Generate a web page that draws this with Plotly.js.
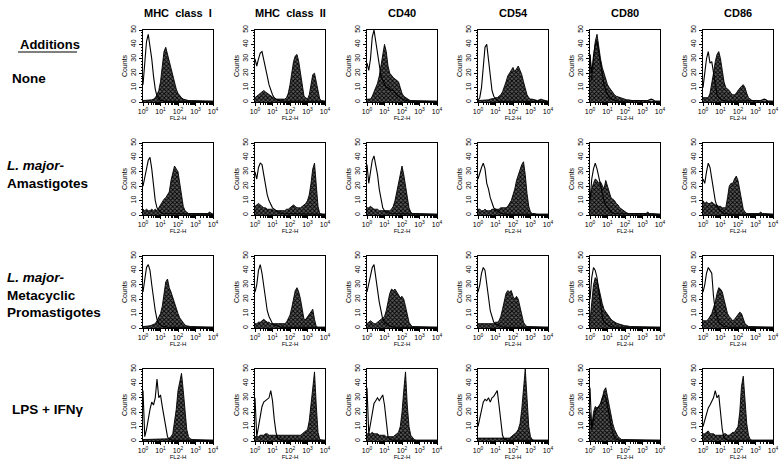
<!DOCTYPE html>
<html><head><meta charset="utf-8">
<script src="https://cdn.plot.ly/plotly-3.0.1.min.js"></script>
<style>html,body{margin:0;padding:0;background:#fff}#chart{width:783px;height:467px}</style>
</head><body><div id="chart"></div>
<script>
// log10 channel positions (decades) of the FL2-H histogram bins
const logChannels = [0,0.1,0.2,0.3,0.4,0.5,0.6,0.7,0.8,0.9,1.0,1.1,1.2,1.3,1.4,1.5,1.6,1.7,1.8,1.9,2.0,2.1,2.2,2.3,2.4,2.5,2.6,2.7,2.8,2.9,3.0,3.1,3.2,3.3,3.4,3.5,3.6,3.7,3.8,3.9,4.0];
const markers = ['MHC\u00a0\u00a0class\u00a0\u00a0I','MHC\u00a0\u00a0class\u00a0\u00a0II','CD40','CD54','CD80','CD86'];
const additions = ['None','<i>L.\u00a0major-</i><br>Amastigotes','<i>L.\u00a0major-</i><br>Metacyclic<br>Promastigotes','LPS\u00a0+\u00a0IFN\u03b3'];
const xTickVals = [1,10,100,1000,10000];
const xTickText = ['10<sup>0</sup>','10<sup>1</sup>','10<sup>2</sup>','10<sup>3</sup>','10<sup>4</sup>'];
const yTickVals = [0,10,20,30,40,50];

// Row 1: None  (open = control, fill = stained)
const none_mhc1_open = [12,30,42,47,40,30,18,9,4,2, 1,1,0.5,0.5,0.5,0.5,0.5,0.5,0.5,0.5, 0.5,0.5,0.5,0.5,0.5,0.5,0.5,0.5,0.5,0.5, 0.5,0.5,0.5,0.5,0.5,0.5,0.5,0.5,0.5,0.5, 0.5];
const none_mhc1_fill = [1,1,1,1,1,1.5,2,3,5,8, 14,24,35,38,33,27,22,17,13,9, 6,4,3,2,1.5,1,1,1,1,1, 1,1,1,1,1,1,1,1,1,1, 0.5];
const none_mhc2_open = [30,25,30,34,35,30,24,18,12,8, 5,3,2,1,1,0.5,0.5,0.5,0.5,0.5, 0.5,0.5,0.5,0.5,0.5,0.5,0.5,0.5,0.5,0.5, 0.5,0.5,0.5,0.5,0.5,0.5,0.5,0.5,0.5,0.5, 0.5];
const none_mhc2_fill = [3,4,5,6,7,8,7,6,5,4, 3,2.5,2,2,2,2,2,2,3,6, 12,20,28,32,33,28,20,10,4,3, 2,5,12,19,20,14,7,2,1,0.5, 0.5];
const none_cd40_open = [27,22,30,45,50,42,35,25,18,15, 12,10,10,9,8,8,6,5,4,3, 2,1.5,1,0.5,0.5,0.5,0.5,0.5,0.5,0.5, 0.5,0.5,0.5,0.5,0.5,0.5,0.5,0.5,0.5,0.5, 0.5];
const none_cd40_fill = [2,2,2,4,7,10,13,18,25,33, 40,35,25,20,18,17,16,15,14,10, 6,4,3,2,1.5,1,1,1,1,1, 1,1,1,1,1,1,0.5,0.5,0.5,0.5, 0.5];
const none_cd54_open = [1,3,10,25,38,40,30,18,8,4, 2,1,0.5,0.5,0.5,0.5,0.5,0.5,0.5,0.5, 0.5,0.5,0.5,0.5,0.5,0.5,0.5,0.5,0.5,0.5, 0.5,0.5,0.5,0.5,0.5,0.5,0.5,0.5,0.5,0.5, 0.5];
const none_cd54_fill = [1,1,1,1,1,1,1.5,2,2,2.5, 3,3,4,5,7,10,14,18,20,22, 24,21,23,25,22,19,14,9,5,3, 2,2,1.5,1.5,1,1.5,2,1.5,1,0.5, 0.5];
const none_cd80_open = [33,20,32,40,42,35,25,18,12,8, 5,3,2,1.5,1,1,0.5,0.5,0.5,0.5, 0.5,0.5,0.5,0.5,0.5,0.5,0.5,0.5,0.5,0.5, 0.5,0.5,0.5,1,1.5,2,1.5,0.5,0.5,0.5, 0.5];
const none_cd80_fill = [33,15,30,42,47,38,30,24,20,16, 12,10,8,6,5,4,3.5,3,2.5,2, 2,1.5,1.5,1,1,1,1,1,1,1, 1,1,1,1,1,1,1,1,1,0.5, 0.5];
const none_cd86_open = [10,22,30,35,27,28,20,10,5,3, 2,1,1,0.5,0.5,0.5,0.5,0.5,0.5,0.5, 0.5,0.5,0.5,0.5,0.5,0.5,0.5,0.5,0.5,0.5, 0.5,0.5,0.5,1,1.5,2,1.5,0.5,0.5,0.5, 0.5];
const none_cd86_fill = [3,3,3,3,6,12,20,28,33,35, 30,22,14,10,9,8,6,5,5,6, 8,10,11,12,10,6,3,2,1,1, 1,1,1,1,1,1,1,1,0.5,0.5, 0.5];

// Row 2: L. major amastigotes
const ama_mhc1_open = [20,25,32,38,40,32,20,10,5,3, 2,1,1,0.5,0.5,0.5,0.5,0.5,0.5,0.5, 0.5,0.5,0.5,0.5,0.5,0.5,0.5,0.5,0.5,0.5, 0.5,0.5,0.5,0.5,0.5,0.5,0.5,0.5,0.5,0.5, 0.5];
const ama_mhc1_fill = [4,3,4,3,3,4,3,4,3,5, 8,10,11,12,14,16,24,30,34,32, 30,22,14,6,3,2,1,1,1,1, 1,1,1,1,1,1,1,1,2,1, 0.5];
const ama_mhc2_open = [30,25,33,36,35,28,20,14,10,7, 5,4,3,2,1.5,1,1,1,0.5,0.5, 0.5,0.5,0.5,0.5,0.5,0.5,0.5,0.5,0.5,0.5, 0.5,0.5,0.5,0.5,0.5,0.5,0.5,0.5,0.5,0.5, 0.5];
const ama_mhc2_fill = [6,7,8,7,6,5,5,4,4,4, 4,3,3,3,3,3,3,3,4,4, 5,6,7,6,5,5,5,6,7,8, 10,14,22,32,36,22,6,1,0.5,0.5, 0.5];
const ama_cd40_open = [35,22,30,38,41,35,28,18,10,5, 3,2,1.5,1,1,0.5,0.5,0.5,0.5,0.5, 0.5,0.5,0.5,0.5,0.5,0.5,0.5,0.5,0.5,0.5, 0.5,0.5,0.5,0.5,0.5,0.5,0.5,0.5,0.5,0.5, 0.5];
const ama_cd40_fill = [5,5,6,5,4,4,4,3,3,3, 3,3,3,3,4,6,10,16,24,30, 34,28,20,10,5,2,1,1,1,0.5, 0.5,0.5,0.5,0.5,0.5,0.5,0.5,0.5,0.5,0.5, 0.5];
const ama_cd54_open = [25,30,33,36,32,22,18,12,8,5, 4,3,2,1,1,0.5,0.5,0.5,0.5,0.5, 0.5,0.5,0.5,0.5,0.5,0.5,0.5,0.5,0.5,0.5, 0.5,0.5,0.5,0.5,0.5,0.5,0.5,0.5,0.5,0.5, 0.5];
const ama_cd54_fill = [4,4,3,3,4,3,3,3,4,4, 4,4,4,5,5,5,5,6,8,10, 14,18,24,28,32,35,37,28,15,6, 2,1,1,0.5,0.5,0.5,0.5,0.5,0.5,0.5, 0.5];
const ama_cd80_open = [10,25,32,36,32,26,20,15,10,7, 5,3,2,1,1,0.5,0.5,0.5,0.5,0.5, 0.5,0.5,0.5,0.5,0.5,0.5,0.5,0.5,0.5,0.5, 0.5,0.5,0.5,0.5,0.5,0.5,0.5,0.5,0.5,0.5, 0.5];
const ama_cd80_fill = [10,18,22,25,24,22,23,20,18,24, 20,15,12,11,10,8,7,5,4,3, 2,1.5,1,1,1,1,1,1,1,1, 1,1,1,2,1,1,1,1,0.5,0.5, 0.5];
const ama_cd86_open = [25,22,30,36,33,25,18,10,6,4, 3,2,1,1,0.5,0.5,0.5,0.5,0.5,0.5, 0.5,0.5,0.5,0.5,0.5,0.5,0.5,0.5,0.5,0.5, 0.5,0.5,0.5,0.5,0.5,0.5,0.5,0.5,0.5,0.5, 0.5];
const ama_cd86_fill = [10,8,9,8,8,9,8,7,7,6, 6,5,5,5,12,20,22,22,25,27, 24,18,10,4,2,1,1,1,1,1, 1,1,1,2,1,1,1,0.5,0.5,0.5, 0.5];

// Row 3: L. major metacyclic promastigotes
const meta_mhc1_open = [25,35,42,44,40,30,20,12,6,3, 2,1,1,0.5,0.5,0.5,0.5,0.5,0.5,0.5, 0.5,0.5,0.5,0.5,0.5,0.5,0.5,0.5,0.5,0.5, 0.5,0.5,0.5,0.5,0.5,0.5,0.5,0.5,0.5,0.5, 0.5];
const meta_mhc1_fill = [1,1,1,1,1.5,2,2.5,3,5,7, 10,15,22,32,34,28,25,21,17,13, 10,7,5,3,2,1.5,1,1,1,1, 1,1,1,1,1,1,1,1,0.5,0.5, 0.5];
const meta_mhc2_open = [25,30,40,44,38,28,20,12,8,5, 3,2,1.5,1,1,0.5,0.5,0.5,0.5,0.5, 0.5,0.5,0.5,0.5,0.5,0.5,0.5,0.5,0.5,0.5, 0.5,0.5,0.5,0.5,0.5,0.5,0.5,0.5,0.5,0.5, 0.5];
const meta_mhc2_fill = [3,3,4,4,5,6,5,4,4,3, 3,3,3,3,3,3,3,3,4,6, 9,14,20,26,28,25,20,12,6,6, 8,9,12,13,6,1,0.5,0.5,0.5,0.5, 0.5];
const meta_cd40_open = [25,30,35,42,44,35,28,18,12,6, 4,3,2,1,1,0.5,0.5,0.5,0.5,0.5, 0.5,0.5,0.5,0.5,0.5,0.5,0.5,0.5,0.5,0.5, 0.5,0.5,0.5,0.5,0.5,0.5,0.5,0.5,0.5,0.5, 0.5];
const meta_cd40_fill = [3,4,5,4,3,3,4,5,6,7, 8,12,18,24,27,26,27,25,22,21, 22,20,15,9,4,2,1,1,1,1, 0.5,0.5,0.5,0.5,0.5,0.5,0.5,0.5,0.5,0.5, 0.5];
const meta_cd54_open = [25,30,38,42,40,30,20,12,8,4, 3,2,1.5,1,0.5,0.5,0.5,0.5,0.5,0.5, 0.5,0.5,0.5,0.5,0.5,0.5,0.5,0.5,0.5,0.5, 0.5,0.5,0.5,0.5,0.5,0.5,0.5,0.5,0.5,0.5, 0.5];
const meta_cd54_fill = [3,3,3,3,3,3,3,3,3,3, 4,4,5,8,13,20,24,26,25,26, 22,20,22,20,15,8,4,2,1,1, 1,1,1,1,1,1,0.5,0.5,0.5,0.5, 0.5];
const meta_cd80_open = [20,35,42,40,35,25,15,8,4,3, 2,1.5,1,0.5,0.5,0.5,0.5,0.5,0.5,0.5, 0.5,0.5,0.5,0.5,0.5,0.5,0.5,0.5,0.5,0.5, 0.5,0.5,0.5,0.5,0.5,0.5,0.5,0.5,0.5,0.5, 0.5];
const meta_cd80_fill = [5,20,30,35,33,28,22,17,13,11, 10,8,6,5,4,3.5,3,2.5,2,2, 1.5,1.5,1,1,1,1,1,1,1,1, 1,1,1,1,1,1,1,1,1,0.5, 0.5];
const meta_cd86_open = [25,30,38,42,40,38,22,12,8,4, 3,2,1,1,0.5,0.5,0.5,0.5,0.5,0.5, 0.5,0.5,0.5,0.5,0.5,0.5,0.5,0.5,0.5,0.5, 0.5,0.5,0.5,0.5,0.5,0.5,0.5,0.5,0.5,0.5, 0.5];
const meta_cd86_fill = [5,5,5,6,8,10,14,18,24,28, 27,25,20,15,10,8,6,5,6,8, 10,11,10,6,3,2,1,1,1,1, 1,1,1,1,1,1,1,1,0.5,0.5, 0.5];

// Row 4: LPS + IFN-gamma
const lps_mhc1_open = [35,3,8,16,22,27,25,30,43,30, 32,24,16,8,3,1,0.5,0.5,0.5,0.5, 0.5,0.5,0.5,0.5,0.5,0.5,0.5,0.5,0.5,0.5, 0.5,0.5,0.5,0.5,0.5,0.5,0.5,0.5,0.5,0.5, 0.5];
const lps_mhc1_fill = [1,1,1,1,1,1,1,1,1,1, 1,1,1,1,1.5,2,3,5,12,22, 35,42,47,35,20,8,3,1.5,1,1, 1,1,1,1,1,1,1,1,1,0.5, 0.5];
const lps_mhc2_open = [30,3,10,18,24,27,28,29,30,35, 28,15,6,2,1,0.5,0.5,0.5,0.5,0.5, 0.5,0.5,0.5,0.5,0.5,0.5,0.5,0.5,0.5,0.5, 0.5,0.5,0.5,0.5,0.5,0.5,0.5,0.5,0.5,0.5, 0.5];
const lps_mhc2_fill = [3,3,3,4,4,4,5,5,4,4, 4,4,4,4,4,4,4,4,4,4, 4,4,4,4,4,4,4,5,6,7, 8,14,25,40,48,25,6,1,0.5,0.5, 0.5];
const lps_cd40_open = [37,5,12,20,26,28,30,28,30,32, 25,12,3,1,0.5,0.5,0.5,0.5,0.5,0.5, 0.5,0.5,0.5,0.5,0.5,0.5,0.5,0.5,0.5,0.5, 0.5,0.5,0.5,0.5,0.5,0.5,0.5,0.5,0.5,0.5, 0.5];
const lps_cd40_fill = [5,5,5,6,5,5,5,4,4,4, 4,3,3,3,3,3,4,5,6,10, 20,35,48,25,10,4,2,1,0.5,0.5, 0.5,0.5,0.5,0.5,0.5,0.5,0.5,0.5,0.5,0.5, 0.5];
const lps_cd54_open = [10,15,22,27,29,28,30,27,30,31, 33,35,25,12,4,1,0.5,0.5,0.5,0.5, 0.5,0.5,0.5,0.5,0.5,0.5,0.5,0.5,0.5,0.5, 0.5,0.5,0.5,0.5,0.5,0.5,0.5,0.5,0.5,0.5, 0.5];
const lps_cd54_fill = [2,2,2,2,2,2,2,2,2,2, 2,2,2,2,2,2,2,2,2,3, 4,5,6,8,12,22,35,50,30,10, 3,1,0.5,0.5,0.5,0.5,0.5,0.5,0.5,0.5, 0.5];
const lps_cd80_open = [37,8,15,20,22,24,26,30,32,30, 25,18,10,5,2,1,0.5,0.5,0.5,0.5, 0.5,0.5,0.5,0.5,0.5,0.5,0.5,0.5,0.5,0.5, 0.5,0.5,0.5,0.5,0.5,0.5,0.5,0.5,0.5,0.5, 0.5];
const lps_cd80_fill = [20,10,20,24,23,24,24,30,35,37, 30,25,18,12,8,5,3,2,1,1, 1,1,1,1,1,1,1,1,1,1, 1,1,1,1,1,1,1,0.5,0.5,0.5, 0.5];
const lps_cd86_open = [10,15,20,23,25,28,30,35,30,32, 20,8,2,1,0.5,0.5,0.5,0.5,0.5,0.5, 0.5,0.5,0.5,0.5,0.5,0.5,0.5,0.5,0.5,0.5, 0.5,0.5,0.5,0.5,0.5,0.5,0.5,0.5,0.5,0.5, 0.5];
const lps_cd86_fill = [5,5,6,7,5,5,5,4,4,4, 4,4,5,5,4,4,5,6,6,8, 10,20,38,45,30,12,4,1,0.5,0.5, 0.5,0.5,0.5,0.5,0.5,0.5,0.5,0.5,0.5,0.5, 0.5];

const grid = [
  [[none_mhc1_open,none_mhc1_fill],[none_mhc2_open,none_mhc2_fill],[none_cd40_open,none_cd40_fill],[none_cd54_open,none_cd54_fill],[none_cd80_open,none_cd80_fill],[none_cd86_open,none_cd86_fill]],
  [[ama_mhc1_open,ama_mhc1_fill],[ama_mhc2_open,ama_mhc2_fill],[ama_cd40_open,ama_cd40_fill],[ama_cd54_open,ama_cd54_fill],[ama_cd80_open,ama_cd80_fill],[ama_cd86_open,ama_cd86_fill]],
  [[meta_mhc1_open,meta_mhc1_fill],[meta_mhc2_open,meta_mhc2_fill],[meta_cd40_open,meta_cd40_fill],[meta_cd54_open,meta_cd54_fill],[meta_cd80_open,meta_cd80_fill],[meta_cd86_open,meta_cd86_fill]],
  [[lps_mhc1_open,lps_mhc1_fill],[lps_mhc2_open,lps_mhc2_fill],[lps_cd40_open,lps_cd40_fill],[lps_cd54_open,lps_cd54_fill],[lps_cd80_open,lps_cd80_fill],[lps_cd86_open,lps_cd86_fill]]
];

const W = 783, H = 467;
const colLeft = [143,255,367,478,590,703];
const panelW = 70;
const rowTop = [30,143,256,369];
const panelH = 72;
const FONT = 'Arial, "Liberation Sans", Helvetica, sans-serif';

const xs = logChannels.map(e => Math.pow(10, e));
const data = [];
const layout = {
  width: W, height: H, margin: {l:0, r:0, t:0, b:0},
  paper_bgcolor: '#fff', plot_bgcolor: '#fff', showlegend: false,
  font: {family: FONT, color: '#000'},
  annotations: [], shapes: []
};

for (let r = 0; r < 4; r++) {
  for (let c = 0; c < 6; c++) {
    const k = r*6 + c + 1;
    const sfx = k === 1 ? '' : String(k);
    const [openY, fillY] = grid[r][c];
    data.push({
      x: xs, y: fillY, xaxis: 'x'+sfx, yaxis: 'y'+sfx, type: 'scatter', mode: 'lines',
      fill: 'tozeroy', fillcolor: '#2e2e2e',
      fillpattern: {shape: 'x', fgcolor: '#000', bgcolor: '#5a5a5a', size: 3, solidity: 0.5},
      line: {color: '#000', width: 0.9}, hoverinfo: 'skip'
    });
    data.push({
      x: xs, y: openY, xaxis: 'x'+sfx, yaxis: 'y'+sfx, type: 'scatter', mode: 'lines',
      line: {color: '#000', width: 1.1}, hoverinfo: 'skip'
    });
    const x0 = colLeft[c] / W, x1 = (colLeft[c] + panelW) / W;
    const y1 = 1 - rowTop[r] / H, y0 = 1 - (rowTop[r] + panelH) / H;
    layout['xaxis'+sfx] = {
      type: 'log', range: [0, 4], domain: [x0, x1], anchor: 'y'+sfx,
      tickmode: 'array', tickvals: xTickVals, ticktext: xTickText,
      ticks: 'outside', ticklen: 3, tickwidth: 1, tickcolor: '#000',
      tickfont: {size: 7, family: FONT, color: '#000'},
      showline: true, mirror: true, linecolor: '#000', linewidth: 1,
      showgrid: false, zeroline: false, automargin: false,
      minor: {ticks: 'outside', ticklen: 1.5, tickcolor: '#000', dtick: 'D1', showgrid: false},
      title: {text: 'FL2-H', font: {size: 6, family: FONT, color: '#000'}, standoff: 0}
    };
    layout['yaxis'+sfx] = {
      range: [0, 50], domain: [y0, y1], anchor: 'x'+sfx,
      tickmode: 'array', tickvals: yTickVals, tickangle: -90,
      ticks: 'outside', ticklen: 3, tickwidth: 1, tickcolor: '#000',
      tickfont: {size: 7, family: FONT, color: '#000'},
      showline: true, mirror: true, linecolor: '#000', linewidth: 1,
      showgrid: false, zeroline: false, automargin: false,
      minor: {ticks: 'outside', ticklen: 1.5, tickcolor: '#000', dtick: 2, showgrid: false},
      title: {text: 'Counts', font: {size: 7, family: FONT, color: '#000'}, standoff: 1}
    };
  }
}

// column headers
markers.forEach((m, c) => {
  layout.annotations.push({
    text: '<b>' + m + '</b>', xref: 'paper', yref: 'paper',
    x: (colLeft[c] + panelW/2) / W, y: 1 - 13 / H, xanchor: 'center', yanchor: 'middle',
    showarrow: false, font: {size: 11, family: FONT, color: '#000'}
  });
});
// row labels
layout.annotations.push({
  text: '<b>Additions</b>', xref: 'paper', yref: 'paper', x: 18 / W, y: 1 - 44 / H,
  xanchor: 'left', yanchor: 'middle', showarrow: false, font: {size: 13, family: FONT, color: '#000'}
});
layout.shapes.push({type: 'line', xref: 'paper', yref: 'paper', x0: 18/W, x1: 77/W, y0: 1 - 52/H, y1: 1 - 52/H, line: {color: '#000', width: 1.2}});
const rowLabelY = [79, 175, 295, 409];
const rowLabelX = [10, 5, 5, 10];
additions.forEach((a, r) => {
  layout.annotations.push({
    text: '<b>' + a + '</b>', xref: 'paper', yref: 'paper', x: rowLabelX[r] / W, y: 1 - rowLabelY[r] / H,
    xanchor: 'left', yanchor: 'middle', align: 'left', showarrow: false,
    font: {size: 13.5, family: FONT, color: '#000'}
  });
});

Plotly.newPlot('chart', data, layout, {staticPlot: true, displayModeBar: false});
</script>
</body></html>
